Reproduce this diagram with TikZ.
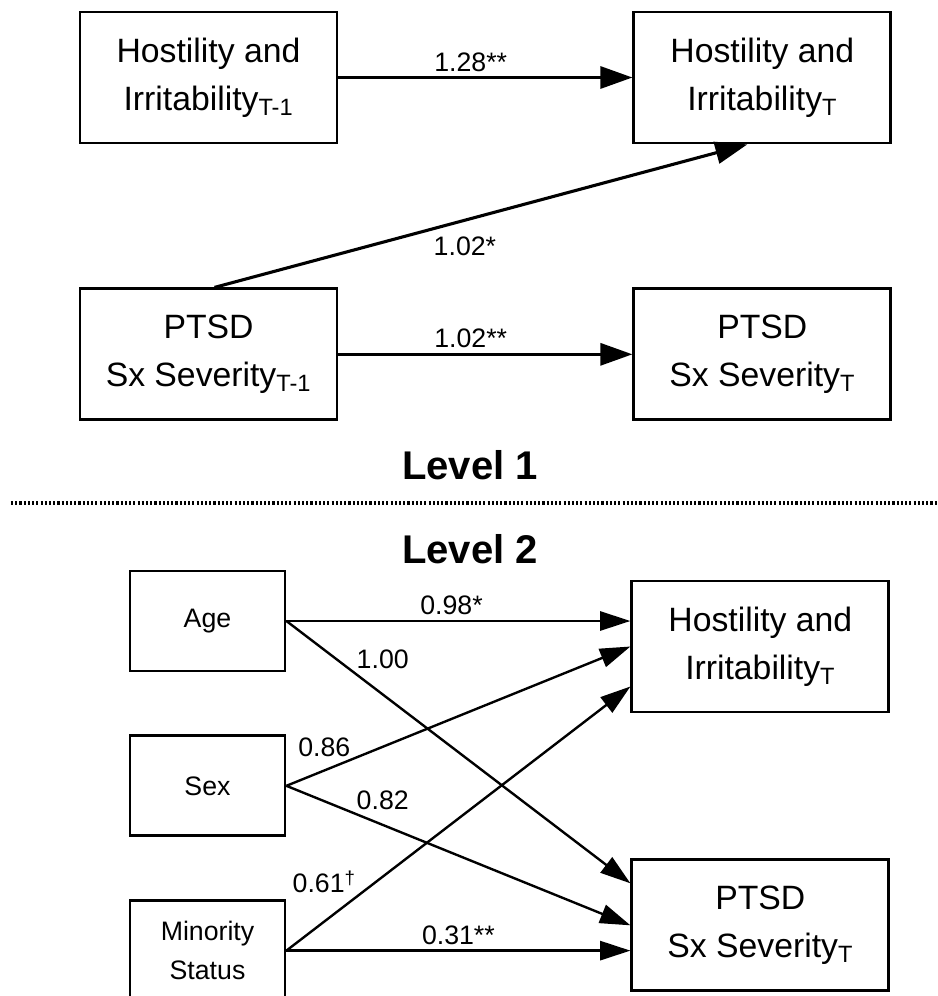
\documentclass[tikz,border=0pt]{standalone}
\usepackage{fontspec}
\setmainfont{Liberation Sans}
\usetikzlibrary{arrows.meta, positioning, calc}

\begin{document}
\begin{tikzpicture}[
    node distance=3.575cm and 7.35cm,
    box/.style={rectangle, draw=black, line width=2pt, minimum width=6.425cm, minimum height=3.275cm, align=center, font=\fontsize{24}{34}\selectfont},
    smallbox/.style={rectangle, draw=black, line width=2pt, minimum width=3.875cm, minimum height=2.5cm, align=center, font=\fontsize{19}{27.5}\selectfont},
    coef/.style={font=\fontsize{19}{22}\selectfont},
    leveltitle/.style={font=\fontsize{28.5}{34}\selectfont\bfseries},
    arrow/.style={-{Triangle[length=0.8cm, width=0.55cm]}, line width=2.2pt},
    thinarrow/.style={-{Triangle[length=0.76cm, width=0.48cm]}, line width=1.7pt},
    sepline/.style={line width=2.2pt, dash pattern=on 1.5pt off 1.5pt}
]
\useasboundingbox (0,0) rectangle (23.425,-24.9);
% Level 1
\node (hostprev) [box] at (5.2125,-1.9375) {Hostility and\\Irritability\textsubscript{T-1}};
\node (hostcur) [box, right=of hostprev] {Hostility and\\Irritability\textsubscript{T}};
\node (ptsdprev) [box, below=of hostprev] {PTSD\\Sx Severity\textsubscript{T-1}};
\node (ptsdcur) [box, right=of ptsdprev] {PTSD\\Sx Severity\textsubscript{T}};
\draw [arrow] (hostprev) -- node[coef, pos=0.45, above] {1.28**} (hostcur);
\draw [arrow] (ptsdprev) -- node[coef, pos=0.45, above] {1.02**} (ptsdcur);
\draw [arrow] ([xshift=0.15cm]ptsdprev.north) -- node[coef, pos=0.47, below=0.26cm] {1.02*} ([xshift=-0.375cm]hostcur.south);
\node (lvlone) [leveltitle] at (11.75,-11.625) {Level 1};
% separator
\coordinate (sepl) at (0.275,-12.575);
\coordinate (sepr) at (23.425,-12.575);
\draw [sepline] (sepl) -- (sepr);
% Level 2
\node (lvltwo) [leveltitle] at (11.75,-13.725) {Level 2};
\node (age) [smallbox] at (5.1875,-15.525) {Age};
\node (sex) [smallbox, below=1.55cm of age] {Sex};
\node (minority) [smallbox, below=1.55cm of sex] {Minority\\Status};
\node (hostlvl2) [box, right=8.6cm of age.north east, anchor=north west, yshift=-0.25cm] {Hostility and\\Irritability\textsubscript{T}};
\node (ptsdlvl2) [box, below=3.625cm of hostlvl2] {PTSD\\Sx Severity\textsubscript{T}};
\draw [thinarrow] (age.east) -- node[coef, pos=0.48, above] {0.98*} (hostlvl2.west |- age.east);
\draw [thinarrow] (age.east) -- node[coef, pos=0.28, above=0.5cm] {1.00} ([yshift=1.05cm]ptsdlvl2.west);
\draw [thinarrow] (sex.east) -- node[coef, pos=0.11, above=0.19cm] {0.86} (hostlvl2.west);
\draw [thinarrow] (sex.east) -- node[coef, pos=0.28, above=0.24cm] {0.82} (ptsdlvl2.west);
\draw [thinarrow] (minority.east) -- node[coef, pos=0.11, above=0.565cm] {0.61\textsuperscript{\textdagger}} ([yshift=-1cm]hostlvl2.west);
\draw [thinarrow] (minority.east) -- node[coef, pos=0.5, above] {0.31**} (ptsdlvl2.west |- minority.east);
\end{tikzpicture}
\end{document}
